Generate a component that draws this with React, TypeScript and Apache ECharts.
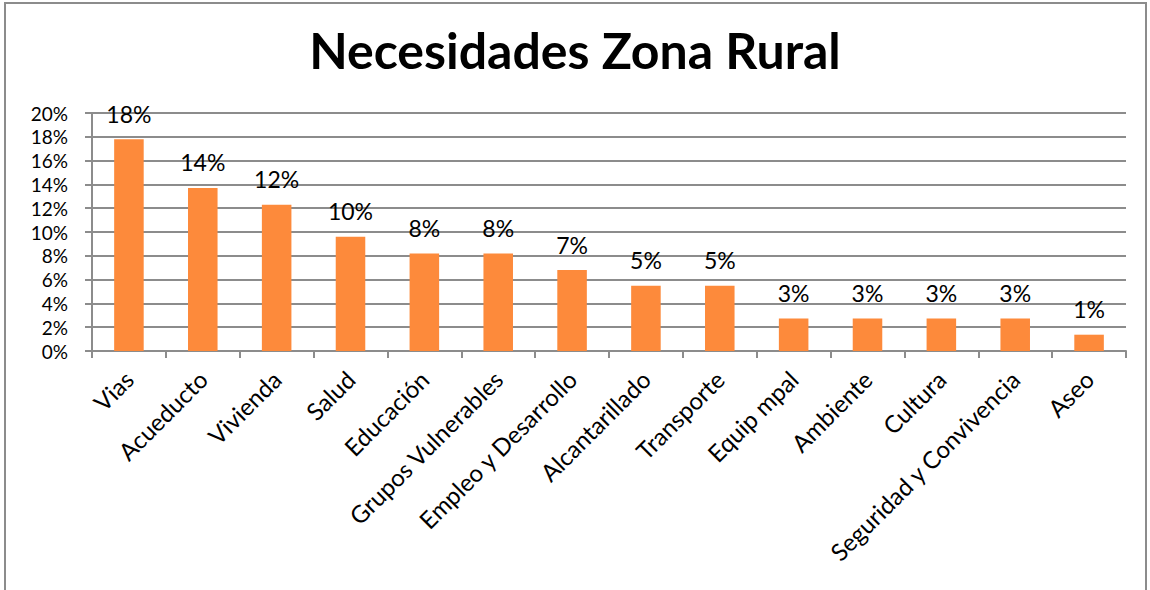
import React, { useEffect, useRef } from "react";
import * as echarts from "echarts";

const categories = [
  "Vias",
  "Acueducto",
  "Vivienda",
  "Salud",
  "Educación",
  "Grupos Vulnerables",
  "Empleo y Desarrollo",
  "Alcantarillado",
  "Transporte",
  "Equip mpal",
  "Ambiente",
  "Cultura",
  "Seguridad y Convivencia",
  "Aseo",
];

const values = [
  0.178, 0.137, 0.123, 0.096, 0.082, 0.082, 0.068, 0.0548, 0.0548, 0.0274,
  0.0274, 0.0274, 0.0274, 0.0137,
];

const yTicks = [0, 0.02, 0.04, 0.06, 0.08, 0.1, 0.12, 0.14, 0.16, 0.18, 0.2];

const FONT = "Lato, 'Open Sans', sans-serif";

export default function App() {
  const ref = useRef<HTMLDivElement>(null);

  useEffect(() => {
    if (!ref.current) return;
    const chart = echarts.init(ref.current, null, { renderer: "svg" });
    chart.setOption({
      animation: false,
      backgroundColor: "#ffffff",
      title: {
        text: "Necesidades Zona Rural",
        left: "center",
        top: 20,
        textStyle: {
          fontFamily: FONT,
          fontWeight: "bold",
          fontSize: 50,
          color: "#000000",
        },
      },
      graphic: [
        {
          type: "rect",
          shape: { x: 5, y: 3, width: 1141, height: 640 },
          style: { fill: "none", stroke: "#8c8c8c", lineWidth: 2 },
          silent: true,
        },
      ],
      grid: { left: 92, right: 24, top: 113, bottom: 239 },
      xAxis: {
        type: "category",
        data: categories,
        axisLine: { lineStyle: { color: "#8c8c8c", width: 2 } },
        axisTick: {
          show: true,
          alignWithLabel: false,
          length: 7,
          lineStyle: { color: "#8c8c8c", width: 2 },
        },
        axisLabel: {
          rotate: 45,
          interval: 0,
          margin: 24,
          fontFamily: FONT,
          fontSize: 24,
          color: "#000000",
        },
      },
      yAxis: {
        type: "value",
        min: 0,
        max: 0.2,
        interval: 0.02,
        axisLine: { show: true, lineStyle: { color: "#8c8c8c", width: 2 } },
        axisTick: { show: true, length: 7, lineStyle: { color: "#8c8c8c", width: 2 } },
        splitLine: { show: true, lineStyle: { color: "#8c8c8c", width: 2 } },
        axisLabel: {
          margin: 24,
          fontFamily: FONT,
          fontSize: 19,
          lineHeight: 19,
          color: "#000000",
          formatter: (v: number) => {
            const idx = yTicks.findIndex((t) => Math.abs(t - v) < 1e-9);
            const t = idx >= 0 ? yTicks[idx] : v;
            return Math.round(t * 100) + "%";
          },
        },
      },
      series: [
        {
          type: "bar",
          data: values,
          barCategoryGap: "60%",
          itemStyle: { color: "#FD8A3B" },
          label: {
            show: true,
            position: "top",
            distance: 14,
            fontFamily: FONT,
            fontSize: 23,
            color: "#000000",
            formatter: (p: any) => Math.round(p.value * 100) + "%",
          },
        },
      ],
    });
    return () => chart.dispose();
  }, []);

  return (
    <div
      ref={ref}
      style={{ position: "fixed", left: 0, top: 0, width: 1150, height: 590 }}
    />
  );
}
